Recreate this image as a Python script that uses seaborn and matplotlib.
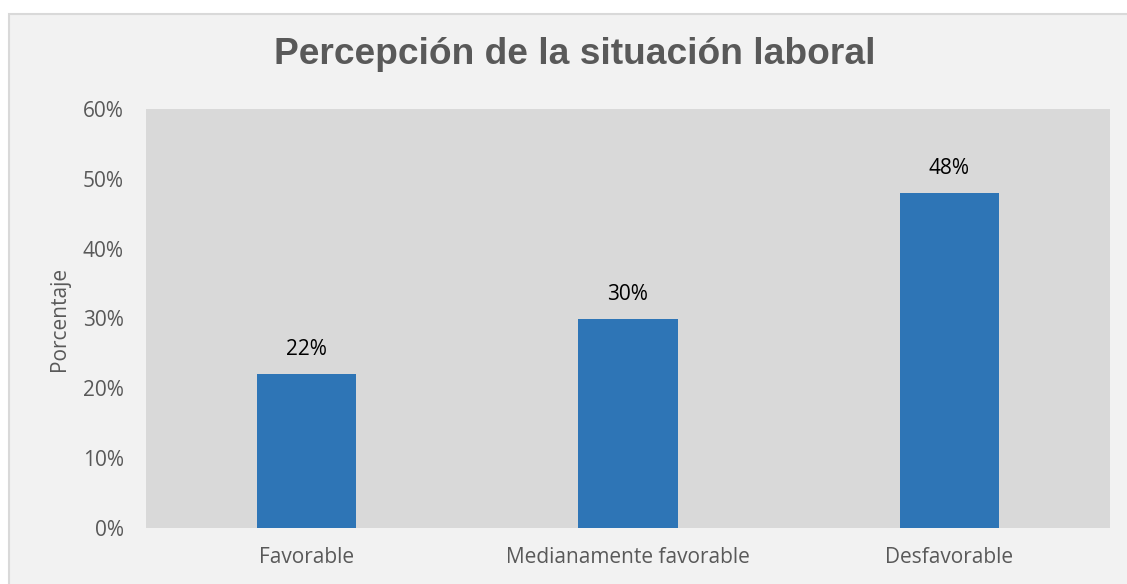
import matplotlib
matplotlib.use("Agg")
import matplotlib.pyplot as plt
from matplotlib.patches import Rectangle
import seaborn as sns
import pandas as pd

# Datos
categorias = ["Favorable", "Medianamente favorable", "Desfavorable"]
porcentajes = [22, 30, 48]
ticks_y = [0, 10, 20, 30, 40, 50, 60]

sns.set_theme(style="white")
plt.rcParams['font.family'] = ['Open Sans', 'DejaVu Sans']

df = pd.DataFrame({"Categoria": categorias, "Porcentaje": porcentajes})

fig = plt.figure(figsize=(11.27, 5.84), dpi=100)
fig.patch.set_facecolor("white")

# Marco exterior del gráfico (estilo Excel)
marco = Rectangle((8.5 / 1127, -0.05), 1.2, (584 - 13.5) / 584 + 0.05,
                  transform=fig.transFigure, facecolor="#f2f2f2",
                  edgecolor="#d9d9d9", linewidth=1.5, zorder=-5)
fig.patches.append(marco)

ax = fig.add_axes([146 / 1127, 56 / 584, 964 / 1127, 419 / 584])
ax.set_zorder(5)
ax.set_facecolor("#d9d9d9")

sns.barplot(data=df, x="Categoria", y="Porcentaje", color="#2e75b6",
            saturation=1, width=0.31, linewidth=0, ax=ax, zorder=3)

for i, v in enumerate(porcentajes):
    ax.text(i, v + 2.0, f"{v}%", ha="center", va="bottom",
            fontsize=15, color="black")

ax.set_ylim(0, 60)
ax.set_xlim(-0.5, 2.5)
ax.set_yticks(ticks_y)
ax.set_yticklabels([f"{t}%" for t in ticks_y], fontsize=15, color="#595959")
ax.tick_params(axis="x", labelsize=15, labelcolor="#595959", pad=14, length=0)
ax.tick_params(axis="y", pad=16, length=0)
for s in ax.spines.values():
    s.set_visible(False)
ax.set_xlabel("")
ax.set_ylabel("Porcentaje", fontsize=15, color="#595959")
ax.yaxis.set_label_coords(-0.079, 0.5)

fig.text(575 / 1127, 1 - 55 / 584, "Percepción de la situación laboral",
         ha="center", va="center", fontsize=26.7, fontweight="bold",
         color="#595959", family=["Liberation Sans", "DejaVu Sans"])

fig.savefig("out.png", dpi=100, facecolor=fig.get_facecolor())
